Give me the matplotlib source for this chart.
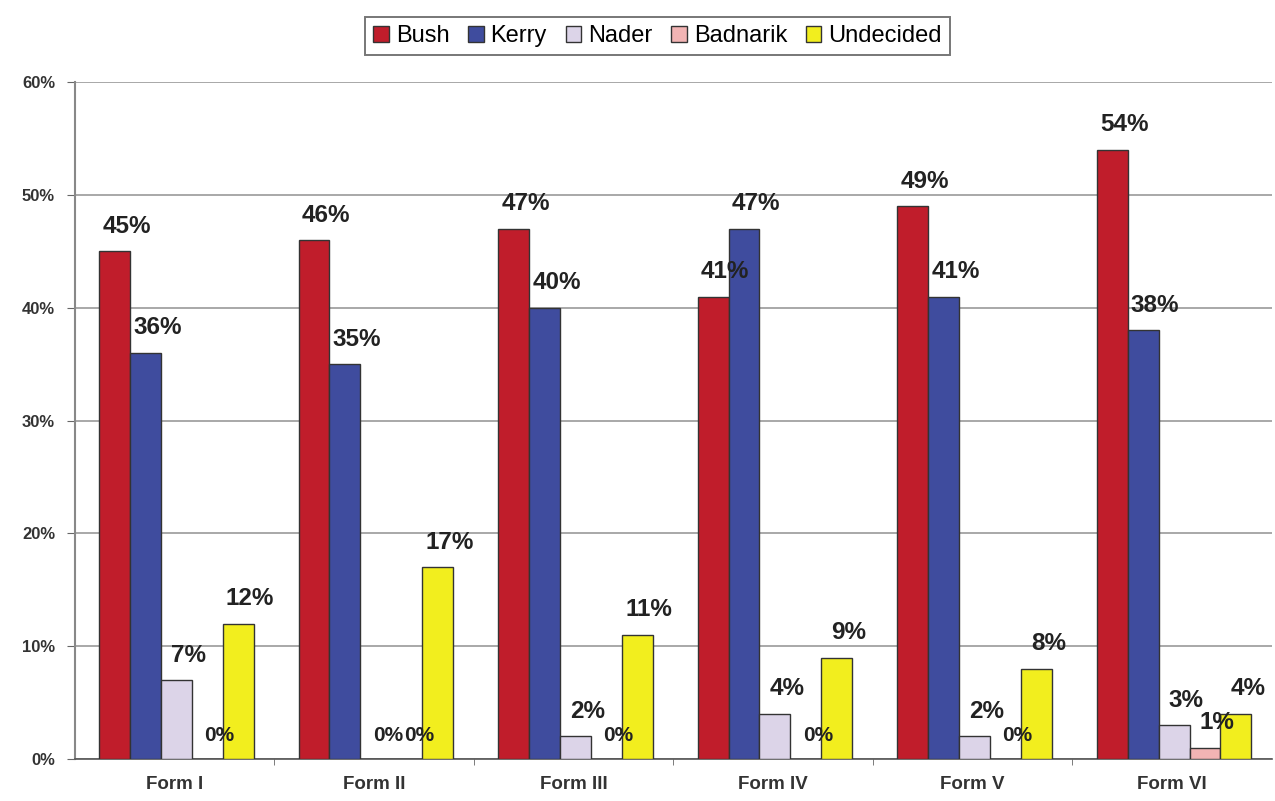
import matplotlib.pyplot as plt
import numpy as np

# Data ###########################################################
forms = ['Form I', 'Form II', 'Form III', 'Form IV', 'Form V', 'Form VI']
candidates = ['Bush', 'Kerry', 'Nader', 'Badnarik', 'Undecided']
bush = [45, 46, 47, 41, 49, 54]
kerry = [36, 35, 40, 47, 41, 38]
nader = [7, 0, 2, 4, 2, 3]
badnarik = [0, 0, 0, 0, 0, 1]
undecided = [12, 17, 11, 9, 8, 4]
colors = ['#C01D2B', '#3F4C9E', '#DCD4E8', '#F2B4B4', '#F2EE1E']

series = [bush, kerry, nader, badnarik, undecided]

plt.rcParams['font.family'] = ['Liberation Sans', 'DejaVu Sans']
fig = plt.figure(figsize=(12.75, 8.01), dpi=100)
ax = fig.add_axes([0.0585, 0.0524, 0.939, 0.845])

x = np.arange(len(forms))
width = 0.155
for i, (vals, name, col) in enumerate(zip(series, candidates, colors)):
    pos = x + (i - 2) * width + 0.01
    ax.bar(pos, vals, width, color=col, edgecolor='#333333',
           linewidth=1.0, label=name, zorder=3)
    # value labels sit a little right of the bar centre, like the original
    for p, v in zip(pos, vals):
        fs = 17.5 if v > 0 else 15  # zero labels crowd each other
        ax.text(p + 0.06, v + 1.2, '%d%%' % v, ha='center', va='bottom',
                fontsize=fs, fontweight='bold', color='#222222', zorder=4)

ax.set_xlim(-0.5, len(forms) - 0.5)
ax.set_ylim(0, 60)
ax.set_yticks(np.arange(0, 61, 10))
ax.set_yticklabels(['%d%%' % t for t in range(0, 61, 10)])
ax.set_xticks(x)
ax.set_xticklabels(forms)
ax.set_xticks(np.arange(0.5, len(forms) - 0.5, 1), minor=True)
ax.tick_params(axis='x', which='major', length=0, pad=12)
ax.tick_params(axis='x', which='minor', length=4, color='#666666')
ax.tick_params(axis='y', length=6, color='#666666', pad=8)
for lab in ax.get_xticklabels():
    lab.set_fontweight('bold')
    lab.set_fontsize(13.5)
    lab.set_color('#333333')
for lab in ax.get_yticklabels():
    lab.set_fontweight('bold')
    lab.set_fontsize(12)
    lab.set_color('#333333')
ax.grid(axis='y', color='#999999', linewidth=1.2, zorder=0)
ax.spines['top'].set_visible(False)
ax.spines['right'].set_visible(False)
ax.spines['left'].set_color('#888888')
ax.spines['left'].set_linewidth(1.5)
ax.spines['bottom'].set_color('#555555')
ax.spines['bottom'].set_linewidth(1.2)

leg = ax.legend(loc='lower center', bbox_to_anchor=(0.487, 1.022), ncol=5,
                fontsize=17, frameon=True, fancybox=False, edgecolor='#555555',
                handlelength=0.65, handleheight=0.65, handletextpad=0.3,
                columnspacing=0.8, borderpad=0.35)
leg.get_frame().set_linewidth(1.4)

fig.savefig('out.png', dpi=100)
